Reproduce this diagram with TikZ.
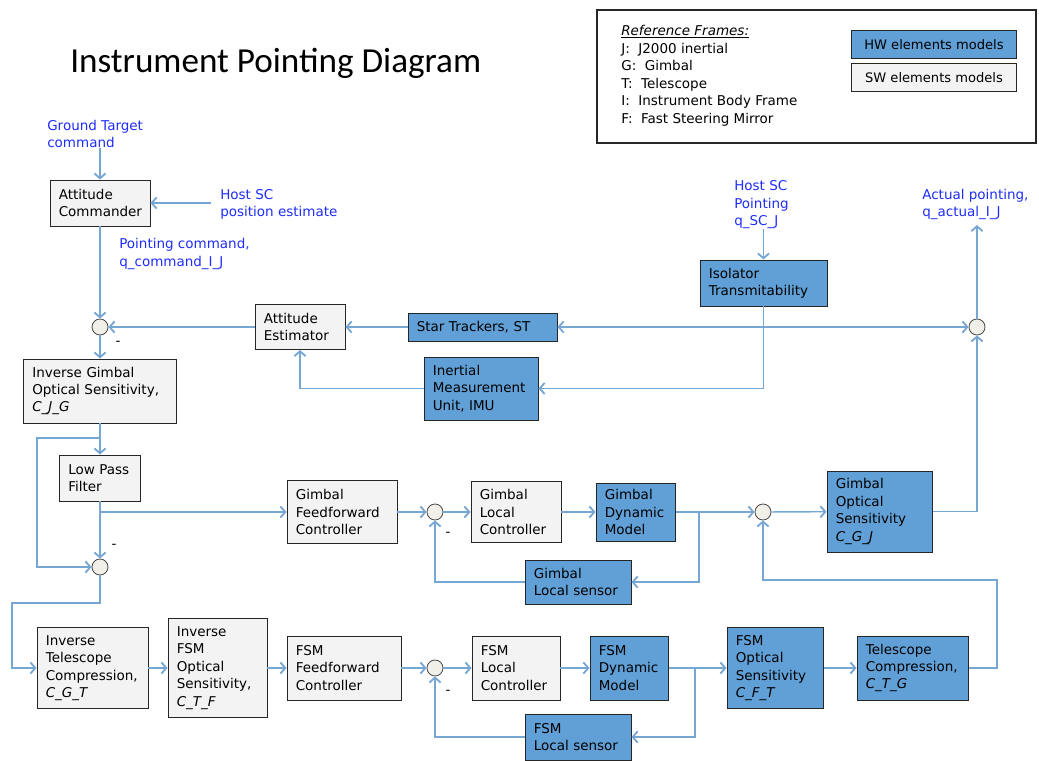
\documentclass[tikz,border=0pt]{standalone}
\usepackage{fontspec}
\setmainfont{DejaVu Sans}
\newfontfamily\titlefont{Carlito}
\usetikzlibrary{arrows.meta,shadows}
\definecolor{hwblue}{RGB}{96,160,214}
\definecolor{swgray}{RGB}{243,243,243}
\definecolor{wireblue}{RGB}{118,166,212}
\definecolor{lblblue}{RGB}{30,45,250}
\definecolor{sumfill}{RGB}{240,240,232}
\newcommand\boxfont{\fontsize{9.6}{12.4}\selectfont}
% block: name, style, centre x, centre y, width, height (in px), text
\newcommand\blk[7]{
  \pgfmathsetmacro\bw{#5*0.025}\pgfmathsetmacro\bh{#6*0.025}\pgfmathsetmacro\tw{#5*0.025-0.44}
  \node[#2, minimum width=\bw cm, minimum height=\bh cm, text width=\tw cm] (#1) at (#3,#4) {#7};
}
\tikzset{
  blkbase/.style={draw=black!85, line width=0.7pt, inner xsep=0.22cm, inner ysep=0pt, align=left, font=\boxfont,
    drop shadow={shadow xshift=0.7pt, shadow yshift=-0.7pt, opacity=0.3}},
  hw/.style={blkbase, fill=hwblue},
  sw/.style={blkbase, fill=swgray},
  sumc/.style={circle, draw=black!70, fill=sumfill, line width=0.6pt, minimum size=0.4cm, inner sep=0},
  wire/.style={draw=wireblue, line width=1pt},
  lbl/.style={text=lblblue, align=left, anchor=west, inner sep=0, font=\boxfont},
  minus/.style={inner sep=0, font=\boxfont}
}

\begin{document}
\begin{tikzpicture}[x=0.025cm, y=-0.025cm, >={Straight Barb[length=3.5pt,width=8pt,line width=1.3pt]}]
\useasboundingbox (0,0) rectangle (1039,761);

\node[anchor=west, inner sep=0, font=\titlefont\fontsize{25}{29}\selectfont] (title) at (70,63) {Instrument Pointing Diagram};

% legend
\draw[line width=1.2pt, black!85, drop shadow={shadow xshift=1pt, shadow yshift=-1pt, opacity=0.4}, fill=white] (597,10) rectangle (1036,143);
\node[anchor=north west, align=left, inner sep=0, font=\fontsize{9.6}{12.5}\selectfont] (frames) at (621,25)
  {\underline{\textit{Reference Frames:}}\\J:\ \ J2000 inertial\\G:\ \ Gimbal\\T:\ \ Telescope\\I:\ \ Instrument Body Frame\\F:\ \ Fast Steering Mirror};
\node[hw, align=center, minimum width=4.1cm, minimum height=0.7cm, font=\fontsize{9.3}{12}\selectfont] (hwkey) at (934,44.5) {HW elements models};
\node[sw, align=center, minimum width=4.1cm, minimum height=0.7cm, font=\fontsize{9.3}{12}\selectfont] (swkey) at (934,77.5) {SW elements models};

% input / output labels
\node[lbl] (gtc) at (47,134) {Ground Target\\command};
\node[lbl] (hpe) at (220,204.5) {Host SC\\position estimate};
\node[lbl] (pcl) at (119,254) {Pointing command,\\q\_command\_I\_J};
\node[lbl] (hsp) at (734,205) {Host SC\\Pointing\\q\_SC\_J};
\node[lbl] (apl) at (922,204.5) {Actual pointing,\\q\_actual\_I\_J};

% attitude loop
\blk{ac}{sw}{100}{203}{100}{46}{Attitude\\Commander}
\blk{ae}{sw}{300}{327}{90}{45}{Attitude\\Estimator}
\blk{st}{hw}{482.5}{327}{149}{28}{Star Trackers, ST}
\blk{iso}{hw}{763.5}{283}{127}{46}{Isolator\\Transmitability}
\blk{imu}{hw}{481}{388.5}{114}{63}{Inertial\\Measurement\\Unit, IMU}
\blk{igos}{sw}{100}{391}{153}{64}{Inverse Gimbal\\Optical Sensitivity,\\\textit{C\_J\_G}}
\blk{lpf}{sw}{100}{478}{81}{46}{Low Pass\\Filter}

% gimbal row
\blk{gff}{sw}{342}{512}{110}{63}{Gimbal\\Feedforward\\Controller}
\blk{glc}{sw}{516}{512}{90}{61}{Gimbal\\Local\\Controller}
\blk{gdm}{hw}{635.5}{512}{79}{58}{Gimbal\\Dynamic\\Model}
\blk{gls}{hw}{578}{582}{106}{44}{Gimbal\\Local sensor}
\blk{gos}{hw}{879.5}{511.5}{105}{81}{Gimbal\\Optical\\Sensitivity\\\textit{C\_G\_J}}

% FSM row
\blk{itc}{sw}{92.5}{668}{111}{81}{Inverse\\Telescope\\Compression,\\\textit{C\_G\_T}}
\blk{ifos}{sw}{217.5}{668}{99}{99}{Inverse\\FSM\\Optical\\Sensitivity,\\\textit{C\_T\_F}}
\blk{fff}{sw}{344}{668}{114}{64}{FSM\\Feedforward\\Controller}
\blk{flc}{sw}{516}{668}{88}{64}{FSM\\Local\\Controller}
\blk{fdm}{hw}{629}{668}{78}{64}{FSM\\Dynamic\\Model}
\blk{fls}{hw}{578}{737}{106}{46}{FSM\\Local sensor}
\blk{fos}{hw}{775}{668}{96}{81}{FSM\\Optical\\Sensitivity\\\textit{C\_F\_T}}
\blk{tc}{hw}{912.5}{668}{111}{64}{Telescope\\Compression,\\\textit{C\_T\_G}}

% summing junctions
\node[sumc] (s1) at (100,327) {};
\node[sumc] (s2) at (100,567) {};
\node[sumc] (s3) at (977,327) {};
\node[sumc] (s4) at (435,512) {};
\node[sumc] (s5) at (763,512) {};
\node[sumc] (s6) at (435,668) {};
\node[minus] (m1) at (118,343) {-};
\node[minus] (m2) at (114,546) {-};
\node[minus] (m4) at (448,534) {-};
\node[minus] (m6) at (448,692) {-};

\coordinate (isoj) at (iso.south |- st.east);
\coordinate (igosj) at (100,438);
\coordinate (lft) at (37,438);
\coordinate (gj) at (699,512);
\coordinate (s2d) at (100,603);
\coordinate (farl) at (12,603);
\coordinate (fj) at (695,668);
\coordinate (tcr) at (997,580);

\draw[wire,->] (ac.north |- gtc.south) -- (ac.north);
\draw[wire,->] ([xshift=-0.22cm]hpe.west |- ac.east) -- (ac.east);
\draw[wire,->] (ac) -- (s1);
\draw[wire,->] (s1) -- (igos);
\draw[wire,->] (ae) -- (s1);
\draw[wire,->] (st) -- (ae);
\draw[wire,->] (iso.south) -- (isoj) -- (st.east);
\draw[wire,->] (iso.south) |- (imu.east);
\draw[wire,->, line width=1.8pt] (isoj) -- (s3.west);
\draw[wire,->] (imu.west) -| (ae.south);
\draw[wire,->] (hsp.south -| iso.north) -- (iso.north);
\draw[wire,->, line width=1.5pt] (s3.north) -- ([yshift=-0.12cm]s3.north |- apl.south);

\draw[wire,->] (igos) -- (lpf);
\draw[wire,->] (igosj) -- (lft) |- (s2.west);
\draw[wire,->] (lpf) -- (s2);
\draw[wire,->] (lpf.south |- gff.west) -- (gff.west);
\draw[wire,->] (gff) -- (s4);
\draw[wire,->] (s4) -- (glc);
\draw[wire,->] (glc) -- (gdm);
\draw[wire,->] (gdm) -- (s5);
\draw[wire,->] (gj) |- (gls.east);
\draw[wire,->] (gls.west) -| (s4.south);
\draw[wire,->] (s5) -- (gos);
\draw[wire,->] (gos.east) -| (s3.south);

\draw[wire,->] (s2.south) -- (s2d) -- (farl) |- (itc.west);
\draw[wire,->] (itc) -- (ifos);
\draw[wire,->] (ifos) -- (fff);
\draw[wire,->] (fff) -- (s6);
\draw[wire,->] (s6) -- (flc);
\draw[wire,->] (flc) -- (fdm);
\draw[wire,->] (fdm) -- (fos);
\draw[wire,->] (fj) |- (fls.east);
\draw[wire,->] (fls.west) -| (s6.south);
\draw[wire,->] (fos) -- (tc);
\draw[wire,->] (tc.east) -| (tcr) -| (s5.south);
\end{tikzpicture}
\end{document}
